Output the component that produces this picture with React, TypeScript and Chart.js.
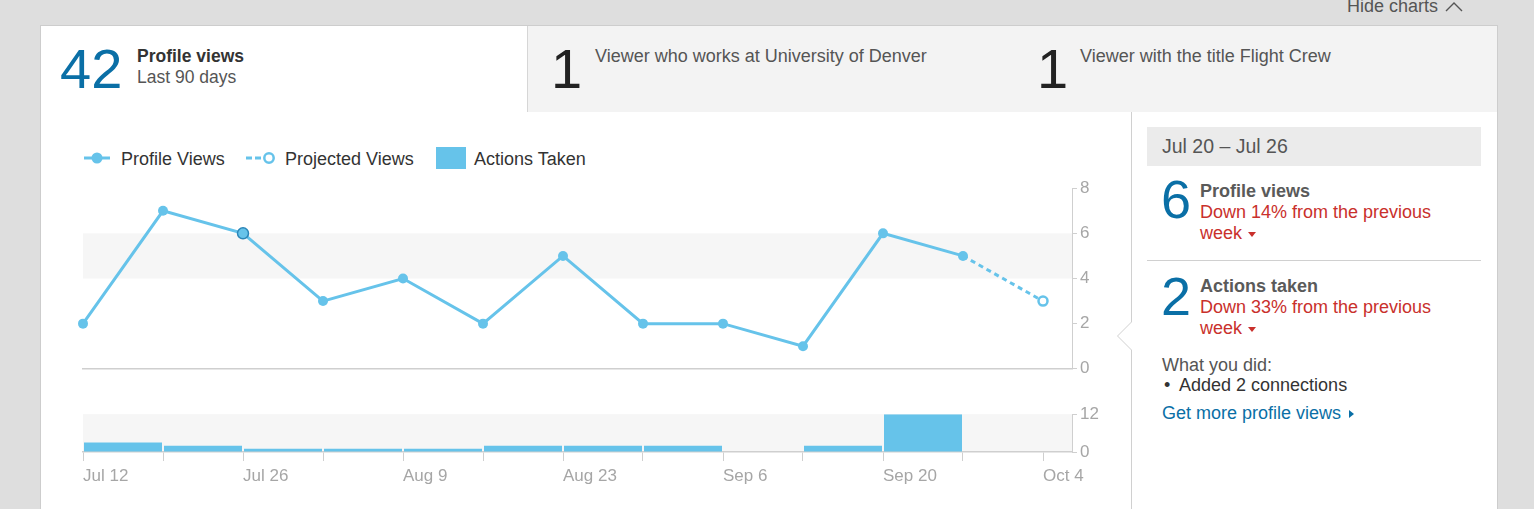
import React, { useEffect, useRef } from "react";
import { Chart, registerables } from "chart.js";

Chart.register(...registerables);

// ---------- data ----------
const weekLabels = [
  "Jul 12", "Jul 19", "Jul 26", "Aug 2", "Aug 9", "Aug 16", "Aug 23",
  "Aug 30", "Sep 6", "Sep 13", "Sep 20", "Sep 27", "Oct 4",
];
const profileViews = [2, 7, 6, 3, 4, 2, 5, 2, 2, 1, 6, 5];
const projectedViews = [null, null, null, null, null, null, null, null, null, null, null, 5, 3];
const actionsTaken = [3, 2, 1, 1, 1, 2, 2, 2, 0, 2, 12, 0];
const viewTicks = [0, 2, 4, 6, 8];
const actionTicks = [0, 12];
const viewBand = [4, 6];
const actionBand = [0, 12];
const selectedWeek = 2;

// ---------- styles ----------
const BLUE = "#66c3ea";
const DARK_BLUE = "#0a6fa6";
const AXIS = "#cfcfcf";
const TICK_TEXT = "#a6a6a6";
const RED = "#c9302c";
const FONT = '"Liberation Sans", Arial, Helvetica, sans-serif';
const X_MAX = weekLabels.length - 1 + 0.3625;

const bandPlugin = {
  id: "bands",
  beforeDraw(chart: any) {
    const opts = chart.options.plugins.bands;
    if (!opts) return;
    const { ctx, chartArea } = chart;
    const y = chart.scales.y;
    ctx.save();
    ctx.fillStyle = opts.color;
    for (const r of opts.ranges) {
      const top = y.getPixelForValue(r[1]);
      const bottom = y.getPixelForValue(r[0]);
      ctx.fillRect(chartArea.left, top, chartArea.right - chartArea.left, bottom - top);
    }
    ctx.restore();
  },
};

const abs = (s: React.CSSProperties): React.CSSProperties => ({ position: "absolute", whiteSpace: "nowrap", ...s });

export default function App() {
  const lineRef = useRef<HTMLCanvasElement>(null);
  const barRef = useRef<HTMLCanvasElement>(null);

  useEffect(() => {
    Chart.defaults.font.family = FONT;
    const projPoints = projectedViews
      .map((y, x) => (y == null ? null : { x, y }))
      .filter((p) => p !== null) as { x: number; y: number }[];

    const yTickOpts = {
      color: TICK_TEXT,
      font: { size: 17, family: FONT },
      padding: 3,
    };

    const line = new Chart(lineRef.current!, {
      type: "line",
      data: {
        datasets: [
          {
            label: "Profile Views",
            data: profileViews.map((y, x) => ({ x, y })),
            borderColor: BLUE,
            borderWidth: 3,
            pointRadius: profileViews.map((_, i) => (i === selectedWeek ? 5.5 : 5)),
            pointHoverRadius: 5,
            pointBackgroundColor: BLUE,
            pointBorderColor: profileViews.map((_, i) => (i === selectedWeek ? "#2b86b8" : BLUE)),
            pointBorderWidth: profileViews.map((_, i) => (i === selectedWeek ? 1.5 : 0)),
            tension: 0,
            clip: false,
          } as any,
          {
            label: "Projected Views",
            data: projPoints,
            borderColor: BLUE,
            borderWidth: 3,
            borderDash: [5, 4],
            pointRadius: projPoints.map((_, i) => (i === projPoints.length - 1 ? 4.5 : 0)),
            pointBackgroundColor: "#ffffff",
            pointBorderColor: BLUE,
            pointBorderWidth: 2.5,
            tension: 0,
            clip: false,
          } as any,
        ],
      },
      options: {
        responsive: false,
        animation: false,
        events: [],
        layout: { padding: { left: 23, top: 13, right: 0, bottom: 8 } },
        plugins: {
          legend: { display: false },
          tooltip: { enabled: false },
          bands: { ranges: [viewBand], color: "#f6f6f6" },
        } as any,
        scales: {
          x: {
            type: "linear",
            min: 0,
            max: X_MAX,
            grid: { display: false },
            ticks: { display: false },
            border: { display: true, color: AXIS, width: 1.5 },
            afterFit: (s: any) => {
              s.height = 0;
            },
          },
          y: {
            type: "linear",
            position: "right",
            min: 0,
            max: 8,
            afterBuildTicks: (s: any) => {
              s.ticks = viewTicks.map((v) => ({ value: v }));
            },
            afterFit: (s: any) => {
              s.width = 48;
            },
            grid: { drawOnChartArea: false, drawTicks: true, tickLength: 5, color: AXIS },
            border: { color: AXIS },
            ticks: yTickOpts,
          },
        } as any,
      },
      plugins: [bandPlugin as any],
    });

    const bar = new Chart(barRef.current!, {
      type: "bar",
      data: {
        datasets: [
          {
            label: "Actions Taken",
            data: actionsTaken.map((y, i) => ({ x: i + 0.5, y })),
            backgroundColor: BLUE,
            borderWidth: 0,
            barPercentage: 0.975,
            categoryPercentage: 1,
          } as any,
        ],
      },
      options: {
        responsive: false,
        animation: false,
        events: [],
        layout: { padding: { left: 23, top: 13, right: 0, bottom: 0 } },
        plugins: {
          legend: { display: false },
          tooltip: { enabled: false },
          bands: { ranges: [actionBand], color: "#f6f6f6" },
        } as any,
        scales: {
          x: {
            type: "linear",
            min: 0,
            max: X_MAX,
            offset: false,
            afterBuildTicks: (s: any) => {
              s.ticks = weekLabels.map((_, i) => ({ value: i }));
            },
            afterFit: (s: any) => {
              s.height = 54;
            },
            grid: { offset: false, drawOnChartArea: false, drawTicks: true, tickLength: 9, color: AXIS },
            border: { color: AXIS, width: 1.5 },
            ticks: {
              align: "start",
              autoSkip: false,
              maxRotation: 0,
              padding: 5,
              color: TICK_TEXT,
              font: { size: 17, family: FONT },
              callback: (_v: any, i: number) => (i % 2 === 0 ? weekLabels[i] : ""),
            },
          },
          y: {
            type: "linear",
            position: "right",
            min: 0,
            max: 12,
            afterBuildTicks: (s: any) => {
              s.ticks = actionTicks.map((v) => ({ value: v }));
            },
            afterFit: (s: any) => {
              s.width = 48;
            },
            grid: { drawOnChartArea: false, drawTicks: true, tickLength: 5, color: AXIS },
            border: { color: AXIS },
            ticks: yTickOpts,
          },
        } as any,
      },
      plugins: [bandPlugin as any],
    });

    return () => {
      line.destroy();
      bar.destroy();
    };
  }, []);

  const bigNum: React.CSSProperties = { fontSize: 56, lineHeight: "56px", fontWeight: 300 };

  return (
    <div
      style={{
        position: "absolute",
        left: 0,
        top: 0,
        width: 1534,
        height: 509,
        background: "#dedede",
        overflow: "hidden",
        fontFamily: FONT,
      }}
    >
      {/* Hide charts */}
      <div style={abs({ left: 1347, top: -4, fontSize: 18, lineHeight: "21px", color: "#555" })}>Hide charts</div>
      <svg style={abs({ left: 1445, top: 0 })} width={18} height={13}>
        <polyline points="1,11 9,3 17,11" fill="none" stroke="#555" strokeWidth={1.4} />
      </svg>

      {/* card */}
      <div
        style={abs({
          left: 40,
          top: 25,
          width: 1458,
          height: 500,
          background: "#fff",
          border: "1px solid #cdcdcd",
          boxSizing: "border-box",
        })}
      />
      {/* gray tabs */}
      <div
        style={abs({
          left: 527,
          top: 26,
          width: 970,
          height: 86,
          background: "#f3f3f3",
          borderLeft: "1px solid #d6d6d6",
          boxSizing: "border-box",
        })}
      />

      {/* tab 1 */}
      <div style={abs({ left: 60, top: 41, color: DARK_BLUE, ...bigNum })}>42</div>
      <div style={abs({ left: 137, top: 45.5, fontSize: 17.5, lineHeight: "21px", fontWeight: 700, color: "#333" })}>
        Profile views
      </div>
      <div style={abs({ left: 137, top: 66.5, fontSize: 17.5, lineHeight: "21px", color: "#555" })}>Last 90 days</div>

      {/* tab 2 */}
      <div style={abs({ left: 551, top: 41, color: "#222", ...bigNum })}>1</div>
      <div style={abs({ left: 595, top: 45.5, fontSize: 18, lineHeight: "21px", color: "#555" })}>
        Viewer who works at University of Denver
      </div>

      {/* tab 3 */}
      <div style={abs({ left: 1037, top: 41, color: "#222", ...bigNum })}>1</div>
      <div style={abs({ left: 1080, top: 45.5, fontSize: 18, lineHeight: "21px", color: "#555" })}>
        Viewer with the title Flight Crew
      </div>

      {/* legend */}
      <svg style={abs({ left: 82, top: 150 })} width={32} height={16}>
        <line x1={2} y1={8} x2={28} y2={8} stroke={BLUE} strokeWidth={3} />
        <circle cx={15} cy={8} r={5.5} fill={BLUE} />
      </svg>
      <div style={abs({ left: 121, top: 148.5, fontSize: 18, lineHeight: "21px", color: "#333" })}>Profile Views</div>
      <svg style={abs({ left: 244, top: 150 })} width={34} height={16}>
        <line x1={2} y1={8} x2={20} y2={8} stroke={BLUE} strokeWidth={3} strokeDasharray="6,3" />
        <circle cx={25} cy={8} r={4.7} fill="#fff" stroke={BLUE} strokeWidth={2.5} />
      </svg>
      <div style={abs({ left: 285, top: 148.5, fontSize: 18, lineHeight: "21px", color: "#333" })}>
        Projected Views
      </div>
      <div style={abs({ left: 436, top: 147, width: 30, height: 22, background: BLUE })} />
      <div style={abs({ left: 474, top: 148.5, fontSize: 18, lineHeight: "21px", color: "#333" })}>Actions Taken</div>

      {/* charts */}
      <canvas ref={lineRef} width={1060} height={207} style={abs({ left: 60, top: 175 })} />
      <canvas ref={barRef} width={1060} height={105} style={abs({ left: 60, top: 401 })} />

      {/* right panel border with notch */}
      <svg style={abs({ left: 1110, top: 112 })} width={30} height={400}>
        <polyline points="21.5,0 21.5,210 7.5,224 21.5,238 21.5,400" fill="#fff" stroke="#d0d0d0" strokeWidth={1} />
      </svg>

      {/* right panel */}
      <div style={abs({ left: 1147, top: 127, width: 334, height: 39, background: "#ebebeb" })} />
      <div style={abs({ left: 1162, top: 135, fontSize: 19.5, lineHeight: "22px", color: "#555" })}>
        Jul 20 – Jul 26
      </div>

      <div style={abs({ left: 1161, top: 172, fontSize: 54, lineHeight: "54px", color: DARK_BLUE })}>6</div>
      <div style={abs({ left: 1200, top: 181, fontSize: 18, lineHeight: "21px", fontWeight: 700, color: "#5a5a5a" })}>
        Profile views
      </div>
      <div style={abs({ left: 1200, top: 202, fontSize: 18, lineHeight: "21px", color: RED })}>
        Down 14% from the previous
      </div>
      <div style={abs({ left: 1200, top: 223, fontSize: 18, lineHeight: "21px", color: RED })}>
        week
        <span
          style={{
            display: "inline-block",
            marginLeft: 6,
            verticalAlign: "middle",
            borderLeft: "4.5px solid transparent",
            borderRight: "4.5px solid transparent",
            borderTop: "5px solid " + RED,
          }}
        />
      </div>

      <div style={abs({ left: 1147, top: 260, width: 334, height: 1, background: "#d0d0d0" })} />

      <div style={abs({ left: 1161, top: 269, fontSize: 54, lineHeight: "54px", color: DARK_BLUE })}>2</div>
      <div style={abs({ left: 1200, top: 276, fontSize: 18, lineHeight: "21px", fontWeight: 700, color: "#5a5a5a" })}>
        Actions taken
      </div>
      <div style={abs({ left: 1200, top: 297, fontSize: 18, lineHeight: "21px", color: RED })}>
        Down 33% from the previous
      </div>
      <div style={abs({ left: 1200, top: 318, fontSize: 18, lineHeight: "21px", color: RED })}>
        week
        <span
          style={{
            display: "inline-block",
            marginLeft: 6,
            verticalAlign: "middle",
            borderLeft: "4.5px solid transparent",
            borderRight: "4.5px solid transparent",
            borderTop: "5px solid " + RED,
          }}
        />
      </div>

      <div style={abs({ left: 1162, top: 355, fontSize: 18, lineHeight: "21px", color: "#555" })}>What you did:</div>
      <div style={abs({ left: 1164, top: 375, fontSize: 18, lineHeight: "21px", color: "#333" })}>•</div>
      <div style={abs({ left: 1179, top: 375, fontSize: 18, lineHeight: "21px", color: "#333" })}>
        Added 2 connections
      </div>
      <div style={abs({ left: 1162, top: 403, fontSize: 18, lineHeight: "21px", color: DARK_BLUE })}>
        Get more profile views
        <span
          style={{
            display: "inline-block",
            marginLeft: 8,
            verticalAlign: "middle",
            borderTop: "4.5px solid transparent",
            borderBottom: "4.5px solid transparent",
            borderLeft: "5px solid " + DARK_BLUE,
          }}
        />
      </div>
    </div>
  );
}
